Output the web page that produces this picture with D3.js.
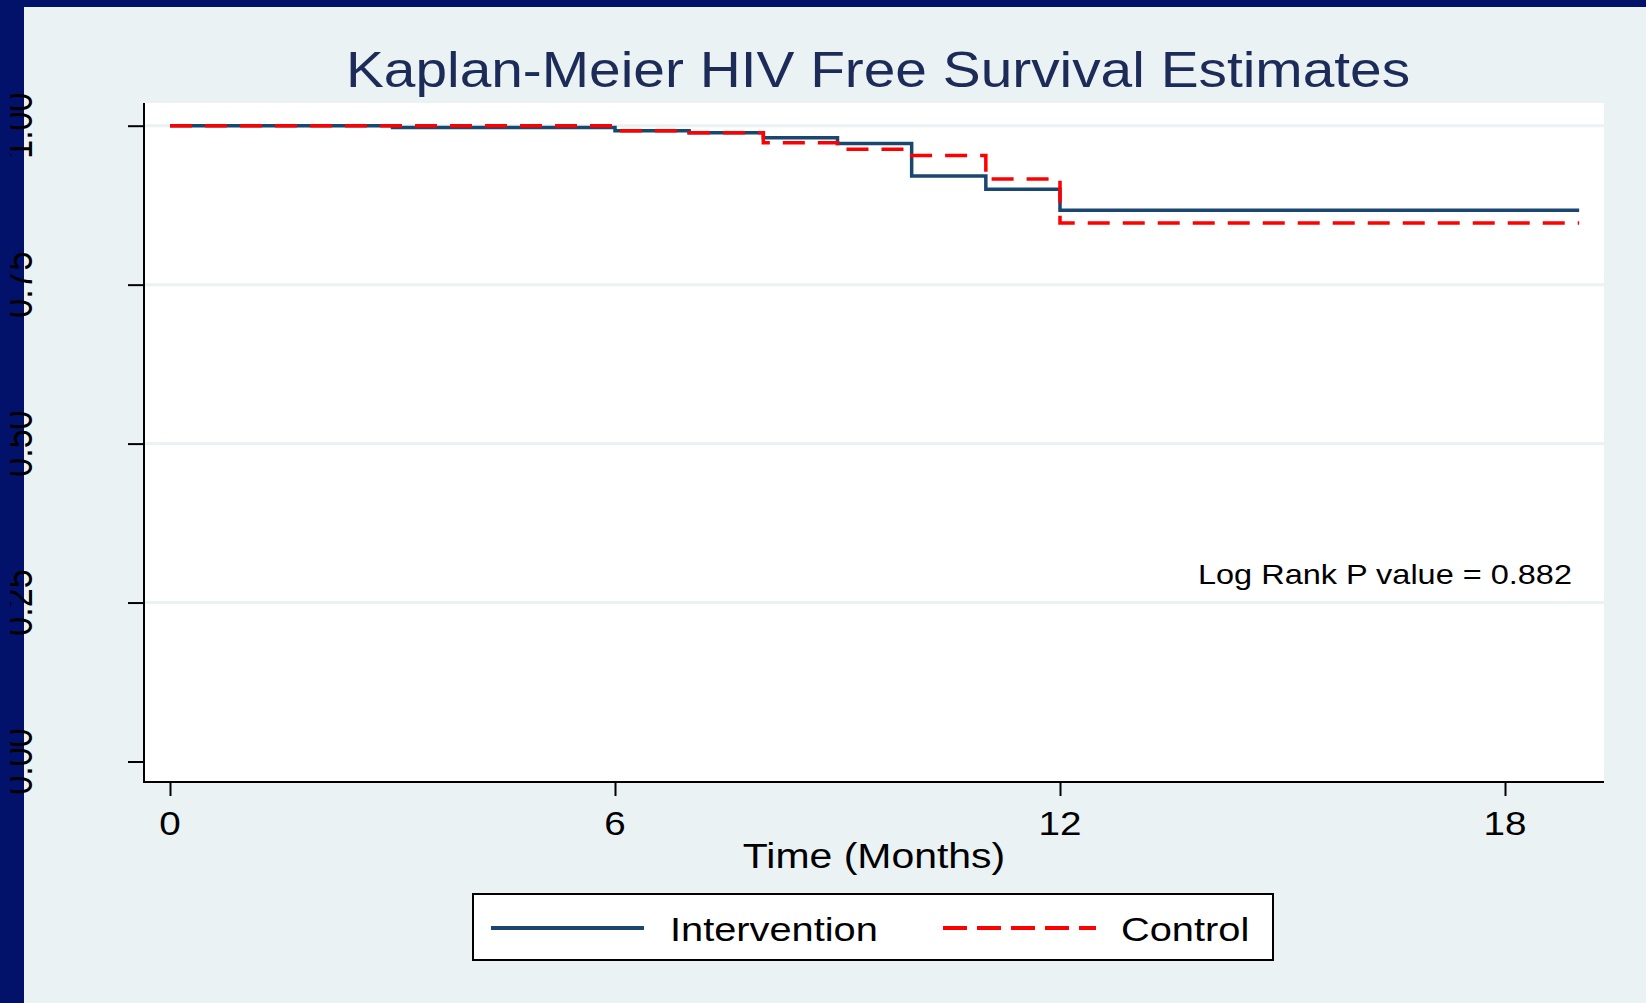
<!DOCTYPE html>
<html><head><meta charset="utf-8">
<script src="https://cdn.jsdelivr.net/npm/d3@7"></script>
<style>html,body{margin:0;padding:0;background:#eaf2f3;}svg{display:block;font-family:"Liberation Sans",Arial,sans-serif;}</style>
</head><body>
<script>
const titleText = "Kaplan-Meier HIV Free Survival Estimates";
const xLabel = "Time (Months)";
const annotation = "Log Rank P value = 0.882";
const seriesNames = ["Intervention", "Control"];
const times = [0, 3, 6, 7, 8, 9, 10, 11, 12, 19];
const intervention = [1.0, 0.997, 0.992, 0.989, 0.981, 0.972, 0.921, 0.900, 0.867, 0.867];
const control = [1.0, 1.0, 0.992, 0.989, 0.973, 0.963, 0.953, 0.916, 0.847, 0.847];
const xTicks = [0, 6, 12, 18];
const yTicks = [0, 0.25, 0.5, 0.75, 1.0];
const yTickLabels = ["0.00", "0.25", "0.50", "0.75", "1.00"];

const W = 1646, H = 1003;
const plot = {left: 144, right: 1604, top: 103, bottom: 782};
const SX = 1.17;

const svg = d3.select("body").append("svg").attr("width", W).attr("height", H);
svg.append("defs").append("clipPath").attr("id", "ylabclip")
  .append("rect").attr("x", 10).attr("y", 0).attr("width", 60).attr("height", H);
svg.append("rect").attr("width", W).attr("height", H).attr("fill", "#eaf2f3");

const x = d3.scaleLinear().domain([0, 18]).range([170, 1505]);
const y = d3.scaleLinear().domain([0, 1]).range([761.5, 125.7]);

svg.append("rect").attr("x", plot.left).attr("y", plot.top)
  .attr("width", plot.right - plot.left).attr("height", plot.bottom - plot.top).attr("fill", "#fff");

// gridlines
svg.append("g").selectAll("line").data(yTicks.filter(d => d > 0)).join("line")
  .attr("x1", plot.left).attr("x2", plot.right)
  .attr("y1", d => y(d)).attr("y2", d => y(d))
  .attr("stroke", "#eaf2f3").attr("stroke-width", 3);

// axes
const yAxis = d3.axisLeft(y).tickValues(yTicks).tickSize(16).tickFormat("");
const gy = svg.append("g").attr("transform", `translate(${plot.left},0)`).call(yAxis);
gy.select(".domain").remove();
gy.selectAll(".tick line").attr("stroke", "#000").attr("stroke-width", 2);

const xAxis = d3.axisBottom(x).tickValues(xTicks).tickSize(14).tickFormat("");
const gx = svg.append("g").attr("transform", `translate(0,${plot.bottom})`).call(xAxis);
gx.select(".domain").remove();
gx.selectAll(".tick line").attr("stroke", "#000").attr("stroke-width", 2);

svg.append("line").attr("x1", plot.left).attr("x2", plot.left).attr("y1", plot.top).attr("y2", plot.bottom + 1)
  .attr("stroke", "#000").attr("stroke-width", 2);
svg.append("line").attr("x1", plot.left).attr("x2", plot.right).attr("y1", plot.bottom).attr("y2", plot.bottom)
  .attr("stroke", "#000").attr("stroke-width", 2);

// x tick labels
svg.append("g").selectAll("text").data(xTicks).join("text")
  .attr("transform", d => `translate(${x(d)},835) scale(${SX},1)`)
  .attr("text-anchor", "middle").attr("font-size", 33).attr("fill", "#000").text(d => d);

// x label
svg.append("text").attr("transform", `translate(874,868) scale(${SX},1)`)
  .attr("text-anchor", "middle").attr("font-size", 35).attr("fill", "#000").text(xLabel);

// title
svg.append("text").attr("transform", `translate(878,86.5) scale(1.16,1)`)
  .attr("text-anchor", "middle").attr("font-size", 49).attr("fill", "#1c2b57").text(titleText);

// curves
const line = d3.line().curve(d3.curveStepAfter).x(d => x(d[0])).y(d => y(d[1]));
svg.append("path").datum(times.map((t, i) => [t, intervention[i]]))
  .attr("d", line).attr("fill", "none").attr("stroke", "#1a476f").attr("stroke-width", 3.5);
svg.append("path").datum(times.map((t, i) => [t, control[i]]))
  .attr("d", line).attr("fill", "none").attr("stroke", "#ff0000").attr("stroke-width", 3.5)
  .attr("stroke-dasharray", "22,13");

// annotation
svg.append("text").attr("transform", `translate(1572,584) scale(1.16,1)`)
  .attr("text-anchor", "end").attr("font-size", 28).attr("fill", "#000").text(annotation);

// legend
const lg = svg.append("g");
lg.append("rect").attr("x", 473).attr("y", 894).attr("width", 800).attr("height", 66)
  .attr("fill", "#fff").attr("stroke", "#000").attr("stroke-width", 2);
lg.append("line").attr("x1", 491).attr("x2", 644).attr("y1", 928).attr("y2", 928)
  .attr("stroke", "#1a476f").attr("stroke-width", 4);
lg.append("line").attr("x1", 943).attr("x2", 1096).attr("y1", 928).attr("y2", 928)
  .attr("stroke", "#ff0000").attr("stroke-width", 4).attr("stroke-dasharray", "24,10");
lg.append("text").attr("transform", `translate(670,941) scale(${SX},1)`)
  .attr("font-size", 34).attr("fill", "#000").text(seriesNames[0]);
lg.append("text").attr("transform", `translate(1121,941) scale(${SX},1)`)
  .attr("font-size", 34).attr("fill", "#000").text(seriesNames[1]);

// navy frame
svg.append("rect").attr("x", 0).attr("y", 0).attr("width", W).attr("height", 7).attr("fill", "#02126a");
svg.append("rect").attr("x", 0).attr("y", 0).attr("width", 24).attr("height", H).attr("fill", "#02126a");

// y tick labels (rotated, drawn over the frame, clipped at the left)
svg.append("g").attr("clip-path", "url(#ylabclip)").selectAll("text").data(yTicks).join("text")
  .attr("transform", d => `translate(32,${y(d)}) rotate(-90) scale(1,1.17)`)
  .attr("text-anchor", "middle").attr("font-size", 34).attr("fill", "#000")
  .text((d, i) => yTickLabels[i]);
</script>
</body></html>
